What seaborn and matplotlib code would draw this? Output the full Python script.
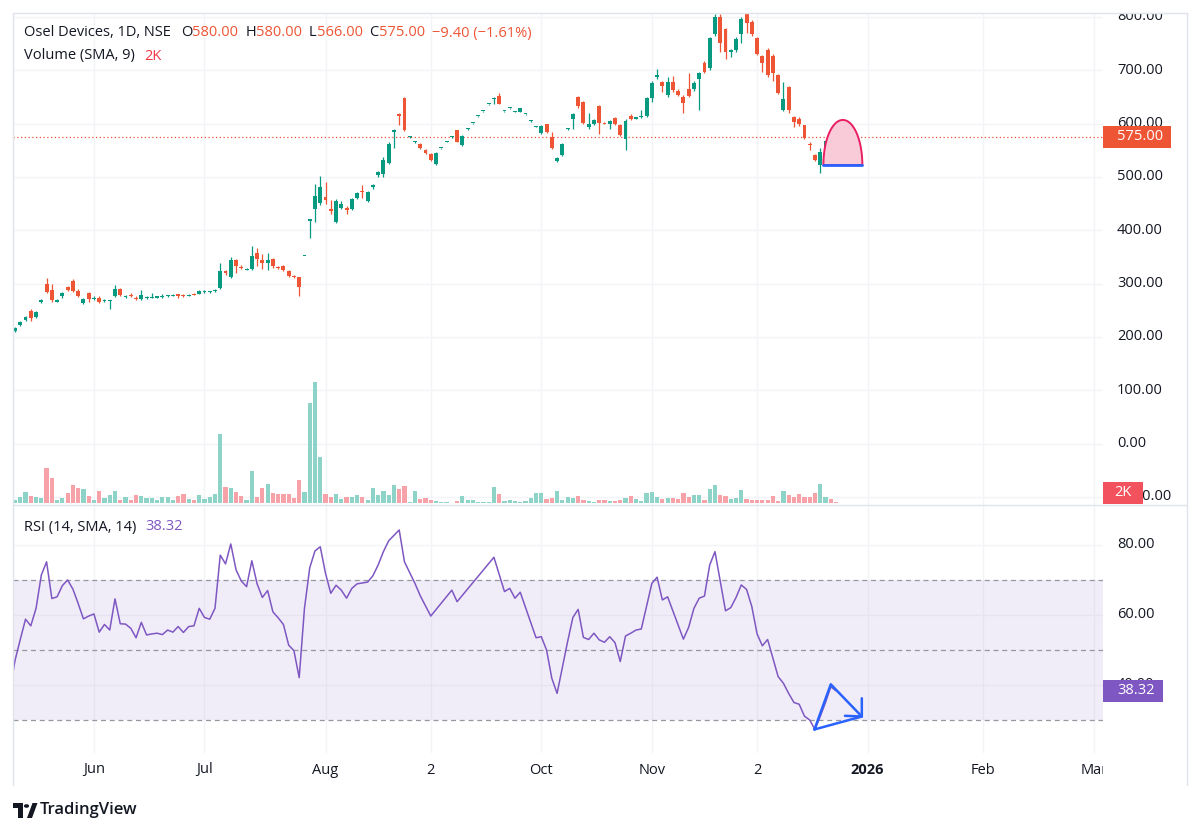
import matplotlib
matplotlib.use("Agg")
import matplotlib.pyplot as plt
import matplotlib.transforms as mtransforms
from matplotlib.patches import Rectangle, Polygon, Circle
from matplotlib.lines import Line2D
import numpy as np
import pandas as pd
import seaborn as sns

W, H = 1200, 833

# daily OHLC (mid May 2025 -> mid Dec 2025)
opens = [212, 222, 232, 249, 237, 266, 300, 288, 266, 276,
         293, 305, 287, 264, 282, 272, 274, 267, 267, 277,
         290, 275, 278, 274, 271, 274, 274, 274, 275, 276,
         277, 280, 278, 277, 281, 281, 284, 284, 286, 292,
         323, 312, 344, 331, 326, 328, 357, 344, 339, 346,
         331, 333, 324, 315, 312, 352, 418, 440, 451, 462,
         440, 416, 442, 442, 440, 461, 474, 455, 481, 504,
         505, 527, 585, 618, 648, 575, 565, 562, 551, 543,
         524, 554, 566, 575, 588, 560, 590, 601, 614, 623,
         636, 646, 652, 623, 629, 622, 622, 618, 605, 594,
         582, 599, 575, 530, 541, 590, 609, 650, 641, 594,
         599, 633, 602, 599, 610, 597, 571, 614, 609, 612,
         614, 648, 687, 678, 654, 678, 661, 650, 665, 665,
         684, 714, 704, 768, 800, 777, 734, 738, 768, 805,
         790, 760, 727, 738, 727, 691, 626, 669, 612, 609,
         597, 561, 541, 522, 537, 586, 580]
highs = [219, 230, 240, 252, 249, 272, 311, 300, 271, 285,
         296, 308, 290, 273, 284, 276, 276, 271, 270, 298,
         292, 279, 283, 276, 288, 277, 283, 277, 281, 279,
         280, 281, 280, 281, 283, 289, 288, 287, 290, 339,
         326, 350, 346, 335, 329, 370, 366, 356, 358, 348,
         334, 335, 326, 317, 313, 352, 422, 487, 502, 490,
         457, 458, 455, 446, 460, 472, 485, 474, 487, 511,
         537, 565, 590, 620, 650, 576, 567, 563, 552, 545,
         547, 555, 567, 576, 589, 578, 591, 602, 615, 624,
         637, 650, 657, 624, 630, 623, 630, 619, 606, 595,
         597, 600, 584, 538, 563, 591, 620, 652, 643, 620,
         608, 635, 604, 607, 612, 599, 608, 618, 613, 625,
         650, 680, 702, 680, 688, 690, 665, 653, 695, 680,
         697, 717, 763, 805, 805, 780, 740, 762, 800, 810,
         795, 762, 728, 742, 730, 693, 678, 671, 614, 612,
         598, 566, 543, 555, 569, 588, 580]
lows = [210, 220, 230, 230, 235, 264, 283, 266, 265, 274,
        286, 285, 275, 262, 266, 270, 264, 266, 253, 275,
        276, 273, 275, 270, 269, 272, 273, 273, 274, 275,
        276, 273, 275, 276, 278, 280, 283, 283, 285, 290,
        316, 310, 320, 327, 325, 326, 333, 328, 325, 330,
        328, 324, 312, 311, 277, 352, 386, 415, 448, 450,
        430, 414, 440, 430, 438, 458, 460, 453, 478, 500,
        500, 524, 555, 598, 586, 574, 564, 553, 544, 530,
        522, 553, 565, 574, 565, 559, 589, 600, 613, 622,
        635, 636, 636, 622, 628, 621, 621, 617, 604, 593,
        580, 582, 552, 528, 540, 589, 590, 630, 599, 590,
        597, 580, 599, 590, 597, 577, 551, 607, 608, 611,
        612, 640, 684, 660, 650, 660, 652, 620, 650, 662,
        626, 695, 700, 765, 735, 722, 725, 735, 752, 770,
        765, 728, 697, 688, 680, 655, 624, 620, 594, 595,
        571, 550, 530, 507, 535, 570, 566]
closes = [217, 228, 238, 236, 247, 270, 285, 269, 269, 283,
          288, 287, 277, 271, 271, 274, 266, 270, 268, 290,
          278, 277, 276, 271, 279, 275, 275, 276, 276, 277,
          278, 277, 276, 279, 279, 287, 286, 286, 289, 324,
          320, 344, 333, 329, 328, 352, 346, 339, 344, 333,
          330, 326, 314, 313, 294, 352, 421, 464, 481, 457,
          436, 455, 449, 438, 459, 470, 472, 472, 485, 509,
          532, 562, 588, 614, 588, 575, 567, 554, 545, 532,
          545, 554, 566, 575, 566, 577, 590, 601, 614, 623,
          636, 649, 637, 623, 629, 622, 629, 618, 605, 594,
          596, 584, 554, 536, 562, 590, 618, 633, 601, 599,
          607, 601, 600, 605, 599, 579, 605, 609, 612, 614,
          648, 676, 691, 671, 678, 663, 654, 639, 652, 676,
          695, 697, 760, 800, 751, 734, 738, 759, 796, 788,
          768, 731, 714, 691, 695, 657, 646, 626, 603, 599,
          573, 560, 532, 547, 567, 584, 575]
# volume, relative units
volume = [2.7, 6.3, 11, 7, 5.7, 5, 35, 25, 2.7, 5,
          10, 18, 15, 14, 7, 2.7, 12, 5, 8, 12,
          2.7, 5.7, 3.3, 8, 7, 5, 5, 2.7, 5.7, 5.7,
          3.3, 6.7, 9.3, 4, 3.3, 8, 4, 5.7, 9.3, 68.7,
          16, 15.3, 11, 7.3, 2.7, 32.3, 6.3, 14.7, 19, 10,
          9.3, 9.3, 9.3, 5, 23.3, 11, 100, 121, 45.7, 8.7,
          6.3, 8.7, 4, 6.3, 5.7, 8, 5.7, 3.3, 15.3, 8,
          12.3, 8, 17.7, 14, 17.3, 0.7, 11.7, 4, 5,
          3, 2.3, 1.3, 1.3, 0.5, 1.7, 7.3, 3, 3, 1.3,
          1.3, 1.3, 15.7, 8.7, 1.7, 3.3, 1.7, 1, 2, 5,
          9.7, 9.7, 4.3, 5.3, 11.7, 3.3, 6.3, 5, 7.3, 3.3,
          2, 0.7, 3, 3, 2, 2, 3, 5, 7.3, 4,
          2.3, 10, 11, 6, 4.3, 4.7, 5, 4, 10, 6.3,
          8, 8, 3.3, 13.7, 18, 7.7, 6.7, 4.3, 4.7, 12.7,
          4, 3.3, 3, 3.3, 3.3, 7, 2.3, 12, 8.3, 6,
          9.3, 6.3, 6, 10, 19, 6.3, 3.7, 1]

# RSI line vertices (bar index, value)
rsi_bar = [-1, 0, 1, 2, 3, 4, 5, 6, 7, 8, 9, 10, 11, 12, 13, 14, 15, 16, 17, 18,
           19, 20, 21, 22, 23, 24, 25, 26, 27, 28, 29, 30, 31, 32, 33, 34, 35, 36, 37, 38,
           39, 40, 41, 42, 43, 44, 45, 46, 47, 48, 49, 50, 51, 52, 53, 54, 55, 56, 57, 58,
           59, 60, 61, 62, 63, 64, 65, 67, 68, 69, 70, 71, 73, 74, 76, 77, 79, 83, 84, 91,
           93, 94, 95, 96, 99, 100, 101, 102, 103, 105, 106, 107, 108, 109, 110, 111, 112, 113, 114, 115,
           116, 117, 118, 119, 121, 122, 123, 124, 127, 128, 129, 130, 131, 132, 133, 135, 136, 137, 138, 139,
           140, 141, 142, 143, 145, 146, 147, 148, 149, 150, 151, 152, 153, 154, 155, 156]
rsi_value = [38, 47, 53, 58.8, 56.9, 61.9, 71.4, 75.2, 64.7, 65.2, 68.4, 70, 67.4, 63.3, 58.9, 59.7, 60.3, 55.1, 57.3, 55.7,
             64.6, 57.5, 57.4, 56.2, 53.5, 57.9, 54.3, 54.6, 54.8, 54.4, 55.7, 55.1, 56.7, 55, 56.7, 56.9, 61.9, 59.3, 58.8, 61.9,
             77.1, 74.6, 80.3, 72.9, 69.7, 68.1, 75.5, 68.9, 65, 67, 60.9, 59.2, 57.3, 51.4, 49.8, 42.1, 61.9, 73.5, 78.3, 79.5,
             71.9, 66.2, 68.5, 67.1, 64.8, 67.6, 68.9, 69.4, 71.2, 74.3, 78.1, 81.2, 84.3, 75.2, 69, 65.5, 59.7, 67.1, 63.8, 76.5,
             66.7, 67.6, 64.8, 66.5, 53.5, 53.8, 50, 41.9, 37.6, 52.4, 59.3, 61.6, 53.6, 53, 54.8, 52.9, 52.2, 53.8, 52.1, 46.7,
             54, 54.8, 55.7, 56, 69, 70.8, 64.3, 65.2, 53.1, 56.5, 61.9, 64.8, 65.4, 74.3, 78.1, 61.2, 62.1, 65, 68.6, 67.3,
             62.4, 54.6, 51.2, 53, 42.4, 40.5, 37.6, 35, 34.5, 31.1, 30, 27.3, 31, 35, 39.5, 38.32]

month_labels = ["Jun", "Jul", "Aug", "2", "Oct", "Nov", "2", "2026", "Feb", "Mar"]
month_bars = [15, 36, 59, 79, 100, 121, 141, 162, 184, 205]
price_ticks = [-100, 0, 100, 200, 300, 400, 500, 600, 700, 800]
rsi_ticks = [40, 60, 80]

last_price = 575.00
last_rsi = 38.32

# user drawings on the chart (bar index, value)
arc_base = 522.5
arc_left, arc_right, arc_top = 153.6, 161.0, 607
rsi_tri = [(151.9, 27.3), (155.0, 40.2), (160.9, 31.0)]

UP, DOWN = "#089981", "#ee5535"
VUP, VDOWN = "#8ed3c7", "#f7a1a8"
PURPLE = "#7e57c2"
TXT = "#131722"
GRID = "#f3f4f8"
BORDER = "#e0e3eb"

sns.set_style("white")
plt.rcParams["font.family"] = ["Open Sans", "DejaVu Sans"]

df = pd.DataFrame({"open": opens, "high": highs, "low": lows,
                   "close": closes, "volume": volume})
df["bar"] = np.arange(len(df))
df["up"] = df["close"] >= df["open"]

fig = plt.figure(figsize=(W / 100, H / 100), dpi=100)
fig.patch.set_facecolor("white")

PANE_L, PANE_R = 13, 1103
PRICE_T, PRICE_B = 13, 505
RSI_T, RSI_B = 506, 753
BAR0_X, BAR_DX = 15, 5.263


def box(l, t, r, b):
    return [l / W, 1 - b / H, (r - l) / W, (b - t) / H]


ax_p = fig.add_axes(box(PANE_L, PRICE_T, PANE_R, PRICE_B))
ax_v = ax_p.twinx()
ax_r = fig.add_axes(box(PANE_L, RSI_T, PANE_R, RSI_B))

xlim = ((PANE_L - BAR0_X) / BAR_DX, (PANE_R - BAR0_X) / BAR_DX)
for a in (ax_p, ax_v, ax_r):
    a.set_xlim(*xlim)
    a.set_xticks([])
    a.set_yticks([])
    for s in a.spines.values():
        s.set_visible(False)

ax_p.set_ylim(800 - (PRICE_B - 17) * 1.875, 800 + (17 - PRICE_T) * 1.875)
ax_v.set_ylim(-2, PRICE_B - PRICE_T - 2)
ax_r.set_ylim(80 - (RSI_B - 545) / 3.5, 80 + (545 - RSI_T) / 3.5)

ax_v.set_zorder(0)
ax_p.set_zorder(1)
ax_p.patch.set_visible(False)

# grid
for m in month_bars:
    ax_v.axvline(m, color=GRID, lw=1, zorder=0)
    ax_r.axvline(m, color=GRID, lw=1, zorder=0)
for t in price_ticks:
    ax_v.axhline((t - ax_p.get_ylim()[0]) / 1.875 - 2, color=GRID, lw=1, zorder=0)
for t in rsi_ticks:
    ax_r.axhline(t, color=GRID, lw=1, zorder=0)

# volume
vcol = np.where(df["up"], VUP, VDOWN)
ax_v.bar(df["bar"], df["volume"], width=0.8, color=vcol, linewidth=0, zorder=1)

# candles
ccol = np.where(df["up"], UP, DOWN)
ax_p.vlines(df["bar"], df["low"], df["high"], colors=ccol, lw=0.9, zorder=3)
body_lo = np.minimum(df["open"], df["close"])
body_h = np.maximum((df["close"] - df["open"]).abs(), 1.9)
ax_p.bar(df["bar"], body_h, bottom=body_lo, width=0.74, color=ccol, linewidth=0, zorder=4)

# last price line
ax_p.axhline(last_price, color=DOWN, lw=0.9, ls=(0, (1, 2)), zorder=2)

# arc drawing
th = np.linspace(0, np.pi, 80)
cx = (arc_left + arc_right) / 2
rx = (arc_right - arc_left) / 2
ax_p.fill(cx + rx * np.cos(th), arc_base + (arc_top - arc_base) * np.sin(th),
          facecolor="#f9cbd9", edgecolor="#e91e63", lw=1.4, zorder=5)
ax_p.plot([arc_left, arc_right], [arc_base, arc_base], color="#2962ff", lw=2, zorder=6)

# RSI pane
ax_r.axhspan(30, 70, color=PURPLE, alpha=0.1, lw=0, zorder=0)
for lvl in (70, 50, 30):
    ax_r.axhline(lvl, color="#9598a1", lw=0.9, ls=(0, (4, 3)), zorder=1)
sns.lineplot(x=rsi_bar, y=rsi_value, ax=ax_r, color=PURPLE, lw=1.1,
             estimator=None, sort=False, zorder=3)
tx = [p[0] for p in rsi_tri]
ty = [p[1] for p in rsi_tri]
ax_r.plot([tx[0], tx[1], tx[2], tx[0]], [ty[0], ty[1], ty[2], ty[0]],
          color="#2962ff", lw=1.8, zorder=5, solid_capstyle="round")
ax_r.plot([tx[2] - 3.2, tx[2], tx[2]], [ty[2] + 0.2, ty[2], ty[2] + 5.2],
          color="#2962ff", lw=1.8, zorder=5)
ax_r.set_xlabel("")
ax_r.set_ylabel("")

# price scale labels
tp = mtransforms.blended_transform_factory(fig.transFigure, ax_p.transData)
tr = mtransforms.blended_transform_factory(fig.transFigure, ax_r.transData)
for t in price_ticks:
    lab = f"{t:.2f}".replace("-", "\u2212")
    fig.text(1117 / W, t, lab, transform=tp, fontsize=10.5, color=TXT, va="center", ha="left")
for t in rsi_ticks:
    fig.text(1117 / W, t, f"{t:.2f}", transform=tr, fontsize=10.5, color=TXT, va="center", ha="left")


def value_box(axis, value, x1, text, color):
    py = H - axis.transData.transform((0, value))[1]
    fig.add_artist(Rectangle(((1103) / W, 1 - (py + 11) / H), (x1 - 1103) / W, 22 / H,
                             transform=fig.transFigure, facecolor=color, edgecolor="none", zorder=5))
    fig.text(1117 / W, 1 - py / H, text, fontsize=10.5, color="white", va="center",
             ha="left", zorder=6)


value_box(ax_p, last_price, 1171, f"{last_price:.2f}", "#ee5535")
value_box(ax_r, last_rsi, 1163, f"{last_rsi:.2f}", PURPLE)
fig.add_artist(Rectangle((1103 / W, 1 - 504 / H), 40 / W, 22 / H, transform=fig.transFigure,
                         facecolor="#f2525e", edgecolor="none", zorder=5))
fig.text(1114 / W, 1 - 493 / H, "2K", fontsize=10.5, color="white", va="center", zorder=6)

# time axis labels
tt = mtransforms.blended_transform_factory(ax_r.transData, fig.transFigure)
for m, lab in zip(month_bars, month_labels):
    fig.text(m, 1 - 770 / H, lab, transform=tt, fontsize=10.5, color=TXT, ha="center", va="center",
             fontweight="bold" if lab == "2026" else "normal", zorder=3)

# frame lines and masks
fig.add_artist(Rectangle((0, 1 - 13 / H), 1, 13 / H, transform=fig.transFigure,
                         facecolor="white", edgecolor="none", zorder=7))
fig.add_artist(Rectangle((1103 / W, 1 - 785 / H), 84 / W, 30 / H, transform=fig.transFigure,
                         facecolor="white", edgecolor="none", zorder=7))
for (x0, y0, x1, y1) in [(13, 13, 1187, 13), (13, 505, 1187, 505), (13, 13, 13, 785),
                         (1187, 13, 1187, 785)]:
    fig.add_artist(Line2D([x0 / W, x1 / W], [1 - y0 / H, 1 - y1 / H], transform=fig.transFigure,
                          color=BORDER, lw=1, zorder=8))

# legends
renderer = fig.canvas.get_renderer()


def seq_text(x, y, parts, size=10.5):
    for s, c, gap in parts:
        t = fig.text(x / W, 1 - y / H, s, color=c, fontsize=size, va="center", ha="left", zorder=9)
        x += t.get_window_extent(renderer=renderer).width + gap


seq_text(24, 33, [("Osel Devices, 1D, NSE", TXT, 10), ("O", TXT, 0), ("580.00", DOWN, 7),
                  ("H", TXT, 0), ("580.00", DOWN, 7), ("L", TXT, 0), ("566.00", DOWN, 7),
                  ("C", TXT, 0), ("575.00", DOWN, 7), ("\u22129.40 (\u22121.61%)", DOWN, 0)])
seq_text(24, 56, [("Volume (SMA, 9)", TXT, 9), ("2K", "#f23645", 0)])
seq_text(24, 527, [("RSI (14, SMA, 14)", TXT, 9), ("38.32", PURPLE, 0)])

# TradingView logo
logo = [(13, 803), (23, 803), (23, 818), (18, 818), (18, 808), (13, 808)]
fig.add_artist(Polygon([(x / W, 1 - y / H) for x, y in logo], closed=True,
                       transform=fig.transFigure, facecolor=TXT, edgecolor="none"))
fig.add_artist(Circle((26.5 / W, 1 - 806 / H), 2.6 / W, transform=fig.transFigure,
                      facecolor=TXT, edgecolor="none"))
slash = [(27, 818), (32, 818), (37.5, 803), (32.5, 803)]
fig.add_artist(Polygon([(x / W, 1 - y / H) for x, y in slash], closed=True,
                       transform=fig.transFigure, facecolor=TXT, edgecolor="none"))
fig.text(40 / W, 1 - 810.5 / H, "TradingView", fontsize=12, fontweight="semibold",
         color=TXT, va="center", ha="left")

fig.savefig("out.png", dpi=100, facecolor="white")
